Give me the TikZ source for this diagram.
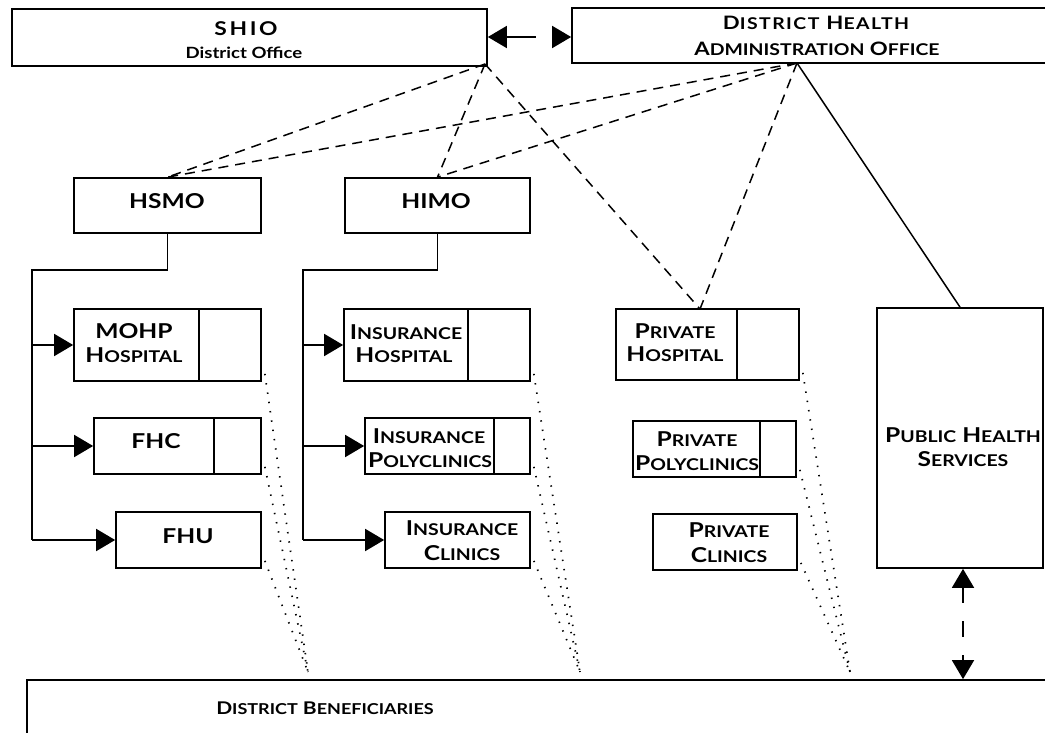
\documentclass[tikz,border=0pt]{standalone}
\usepackage{fontspec}
\setmainfont{Lato}[FakeStretch=1.2]
\usetikzlibrary{arrows.meta,fit,calc}
\newcommand\BG{\fontsize{20.5}{20.5}\selectfont}
\newcommand\SM[1]{{\fontsize{16.2}{16.2}\selectfont #1}}
\newcommand\SMB[1]{{\fontsize{15}{15}\selectfont #1}}
\begin{document}
\begin{tikzpicture}[x=1pt,y=-1pt,
  box/.style={draw,line width=1.7pt,inner sep=0pt},
  lab/.style={anchor=base,inner sep=0pt,font=\bfseries\BG},
  dsh/.style={line width=1.5pt,dash pattern=on 10pt off 7pt},
  dotl/.style={line width=1.7pt,dash pattern=on 1.4pt off 8pt},
  arr/.style={line width=1.7pt,-{Triangle[length=19pt,width=22pt]}},
  darr/.style={line width=1.7pt,{Triangle[length=19pt,width=22pt]}-{Triangle[length=19pt,width=22pt]}}]
\useasboundingbox (0,0) rectangle (1045,733);
\clip (0,0) rectangle (1045,733);
% top offices
\node[box,fit={(12,9) (487,66)}] (shio) {};
\node[lab] (shioT) at (246,36) {\fontsize{19}{19}\selectfont\addfontfeatures{LetterSpace=14}SHIO};
\node[lab] (shioT2) at (244,59) {\fontsize{15.5}{15.5}\selectfont District Office};
\node[box,fit={(572,8) (1100,63)}] (dhao) {};
\node[lab] (dhaoT) at (816,30) {\fontsize{18.5}{18.5}\selectfont\addfontfeatures{LetterSpace=9}D\SM{ISTRICT} H\SM{EALTH}};
\node[lab] (dhaoT2) at (817,56) {\fontsize{18.5}{18.5}\selectfont A\SM{DMINISTRATION} O\SM{FFICE}};
% supervisors
\node[box,fit={(74,178) (261,233)}] (hsmo) {};
\node[lab] (hsmoT) at (167,208) {HSMO};
\node[box,fit={(345,178) (530,233)}] (himo) {};
\node[lab] (himoT) at (436,208) {HIMO};
% column 1
\node[box,fit={(74,309) (261,381)}] (mohp) {};
\draw[line width=1.7pt] (199,309) -- (199,381);
\node[lab] (mohpT) at (134,338) {MOHP};
\node[lab] (mohpT2) at (134,362) {H\SM{OSPITAL}};
\node[box,fit={(94,418) (261,474)}] (fhc) {};
\draw[line width=1.7pt] (214,418) -- (214,474);
\node[lab] (fhcT) at (156,448) {FHC};
\node[box,fit={(116,512) (261,568)}] (fhu) {};
\node[lab] (fhuT) at (188,543) {FHU};
% column 2
\node[box,fit={(344,309) (530,381)}] (ihosp) {};
\draw[line width=1.7pt] (468,309) -- (468,381);
\node[lab] (ihospT) at (406,339) {I\SM{NSURANCE}};
\node[lab] (ihospT2) at (404,362) {H\SM{OSPITAL}};
\node[box,fit={(365,418) (530,474)}] (ipoly) {};
\draw[line width=1.7pt] (494,418) -- (494,474);
\node[lab] (ipolyT) at (429,443) {I\SM{NSURANCE}};
\node[lab] (ipolyT2) at (430,467) {P\SM{OLYCLINICS}};
\node[box,fit={(385,512) (530,568)}] (iclin) {};
\node[lab] (iclinT) at (462,535) {I\SM{NSURANCE}};
\node[lab] (iclinT2) at (462,560) {C\SM{LINICS}};
% column 3
\node[box,fit={(616,309) (799,380)}] (phosp) {};
\draw[line width=1.7pt] (737,309) -- (737,380);
\node[lab] (phospT) at (675,338) {P\SM{RIVATE}};
\node[lab] (phospT2) at (675,361) {H\SM{OSPITAL}};
\node[box,fit={(633,421) (796,477)}] (ppoly) {};
\draw[line width=1.7pt] (760,421) -- (760,477);
\node[lab] (ppolyT) at (697,446) {P\SM{RIVATE}};
\node[lab] (ppolyT2) at (697,470) {P\SM{OLYCLINICS}};
\node[box,fit={(653,514) (797,570)}] (pclin) {};
\node[lab] (pclinT) at (729,537) {P\SM{RIVATE}};
\node[lab] (pclinT2) at (729,562) {C\SM{LINICS}};
% public health
\node[box,fit={(877,308) (1043,568)}] (pub) {};
\node[lab] (pubT) at (963,442) {P\SM{UBLIC} H\SM{EALTH}};
\node[lab] (pubT2) at (963,466) {S\SM{ERVICES}};
% beneficiaries
\node[box,fit={(27,680) (1100,760)}] (ben) {};
\node[lab] (benT) at (325,714) {\fontsize{17.5}{17.5}\selectfont D\SMB{ISTRICT} B\SMB{ENEFICIARIES}};
% coordinates
\coordinate (shC) at (485,64);
\coordinate (dhC) at (797,63);
\coordinate (phTop) at (700,309);
\coordinate (hsL) at (32,270);
\coordinate (hiL) at (303,270);
\coordinate (b1) at (308,672);
\coordinate (b2) at (580,672);
\coordinate (b3) at (850,672);
% top double arrow
\draw[darr,dash pattern=on 30pt off 25pt] (shio.east |- 0,37) -- (dhao.west |- 0,37);
% dashed links
\draw[dsh] (shC) -- (hsmo.north);
\draw[dsh] (shC) -- (himo.north);
\draw[dsh] (shC) -- (phTop);
\draw[dsh] (dhC) -- (hsmo.north);
\draw[dsh] (dhC) -- (himo.north);
\draw[dsh] (dhC) -- (phTop);
\draw[line width=1.5pt] (dhC) -- (pub.north);
% HSMO tree
\draw[line width=1.7pt] (hsmo.south) |- (hsL) -- (hsL |- fhu.west);
\draw[arr] (hsL |- mohp.west) -- (mohp.west);
\draw[arr] (hsL |- fhc.west) -- (fhc.west);
\draw[arr] (hsL |- fhu.west) -- (fhu.west);
% HIMO tree
\draw[line width=1.7pt] (himo.south) |- (hiL) -- (hiL |- iclin.west);
\draw[arr] (hiL |- ihosp.west) -- (ihosp.west);
\draw[arr] (hiL |- ipoly.west) -- (ipoly.west);
\draw[arr] (hiL |- iclin.west) -- (iclin.west);
% dotted links to beneficiaries
\foreach \n/\b in {mohp/b1,fhc/b1,fhu/b1,ihosp/b2,ipoly/b2,iclin/b2,phosp/b3,ppoly/b3,pclin/b3}
  \draw[dotl] ($(\n.south east)+(3,-8)$) -- (\b);
% public health <-> beneficiaries
\draw[darr,dash pattern=on 16pt off 18pt] (pub.south -| 963,0) -- (ben.north -| 963,0);
\end{tikzpicture}
\end{document}
